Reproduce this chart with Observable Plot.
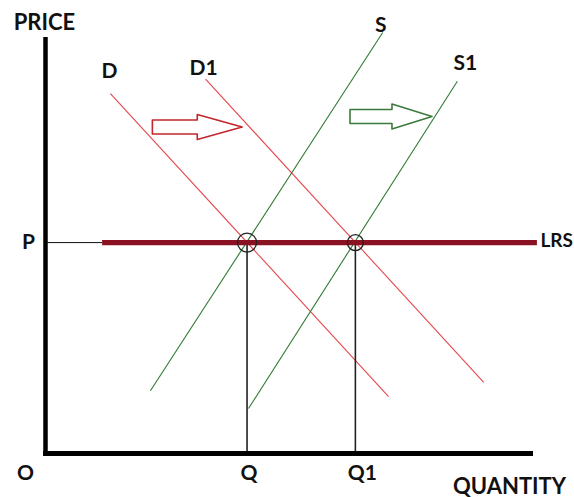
<!DOCTYPE html>
<html>
<head>
<meta charset="utf-8">
<script src="https://cdn.jsdelivr.net/npm/d3@7"></script>
<script src="https://cdn.jsdelivr.net/npm/@observablehq/plot@0.6"></script>
<style>
  html, body { margin: 0; padding: 0; background: #fff; }
  #chart svg { display: block; }
</style>
</head>
<body>
<div id="chart"></div>
<script>
// Long-run supply: demand and supply both shift right, price stays at P.
const priceLevel = 50.7;
const quantities = [41.3, 63.5];
const quantityLabels = ["Q", "Q1"];

const curveNames = ["D", "D1", "S", "S1"];
const curveX1 = [13.3, 32.8, 21.5, 41.6];
const curveY1 = [86.5, 90.0, 15.1, 10.8];
const curveX2 = [70.3, 89.8, 69.1, 84.4];
const curveY2 = [13.7, 17.1, 101.2, 89.5];

const lrsStart = 11.7;
const lrsEnd = 100.8;

// shift arrows (tail, neck, tip along the quantity axis; height on the price axis)
const arrowNames = ["demand shift", "supply shift"];
const arrowTail = [21.9, 62.4];
const arrowNeck = [31.1, 71.0];
const arrowTip = [40.3, 79.2];
const arrowY = [78.5, 81.0];

const curves = curveNames.map((name, i) => {
  const topFirst = curveY1[i] > curveY2[i];
  return {
    name,
    kind: name.startsWith("D") ? "demand" : "supply",
    x1: curveX1[i], y1: curveY1[i], x2: curveX2[i], y2: curveY2[i],
    topX: topFirst ? curveX1[i] : curveX2[i],
    topY: topFirst ? curveY1[i] : curveY2[i]
  };
});

const bodyHalf = 1.68, headHalf = 3.0;
const arrowPoints = arrowNames.flatMap((name, i) => {
  const y = arrowY[i], t = arrowTail[i], n = arrowNeck[i], p = arrowTip[i];
  return [
    [t, y + bodyHalf], [n, y + bodyHalf], [n, y + headHalf], [p, y],
    [n, y - headHalf], [n, y - bodyHalf], [t, y - bodyHalf]
  ].map(([x, yy]) => ({name, x, y: yy}));
});

const intersections = quantities.map((q, i) => ({q, label: quantityLabels[i], r: i === 0 ? 9.5 : 8}));

const labelOffsets = {D: [-1, -22], D1: [-2, -11], S: [-2, -7], S1: [8, -18]};
const font = "Lato, 'DejaVu Sans', sans-serif";
const labelStyle = {fontFamily: font, fontWeight: "bold", fontSize: 21, fill: "#111"};

const colors = {demand: "#e5474b", supply: "#2f7a33"};
const arrowColors = {"demand shift": "#c3262c", "supply shift": "#3c7a3c"};

const chart = Plot.plot({
  width: 574,
  height: 497,
  marginLeft: 45,
  marginRight: 41,
  marginTop: 37,
  marginBottom: 44,
  x: {domain: [0, 100], axis: null},
  y: {domain: [0, 100], axis: null},
  r: {type: "identity"},
  style: {background: "#fff", overflow: "visible"},
  marks: [
    // guide from the price axis to the LRS line
    Plot.ruleY([priceLevel], {x1: 0, x2: lrsStart, stroke: "#111", strokeWidth: 1}),
    // demand and supply curves
    Plot.link(curves, {
      x1: "x1", y1: "y1", x2: "x2", y2: "y2",
      stroke: d => colors[d.kind], strokeWidth: 1.1
    }),
    // drop lines to Q and Q1
    Plot.ruleX(quantities, {y1: 0, y2: priceLevel, stroke: "#222", strokeWidth: 1.6}),
    // long-run supply
    Plot.ruleY([priceLevel], {x1: lrsStart, x2: lrsEnd, stroke: "#8a1222", strokeWidth: 5.3}),
    // equilibrium markers
    Plot.dot(intersections, {x: "q", y: priceLevel, r: "r", stroke: "#222", strokeWidth: 1.3, fill: "none"}),
    // shift arrows
    Plot.line(arrowPoints, {
      x: "x", y: "y", z: "name", curve: "linear-closed",
      stroke: d => arrowColors[d.name], strokeWidth: 1.6, fill: "none"
    }),
    // axes
    Plot.ruleX([0], {y1: -0.5, y2: 100, stroke: "#000", strokeWidth: 4.5}),
    Plot.ruleY([0], {x1: -0.4, x2: 100, stroke: "#000", strokeWidth: 5}),
    // curve labels
    ...curves.map(c => Plot.text([c], {
      x: "topX", y: "topY", text: "name",
      dx: labelOffsets[c.name][0], dy: labelOffsets[c.name][1],
      ...labelStyle
    })),
    // axis titles and tick letters
    Plot.text(["PRICE"], {x: 0, y: 100, dx: -1, dy: -15, ...labelStyle, fontSize: 22}),
    Plot.text(["QUANTITY"], {x: 100, y: 0, dx: -24, dy: 33, ...labelStyle, fontSize: 22}),
    Plot.text(["O"], {x: 0, y: 0, dx: -20, dy: 20, ...labelStyle}),
    Plot.text(["P"], {x: 0, y: priceLevel, dx: -17, dy: 0, ...labelStyle}),
    ...intersections.map((d, i) => Plot.text([d], {
      x: "q", y: 0, text: "label", dx: i === 0 ? 2 : 7, dy: 20, ...labelStyle
    })),
    Plot.text(["LRS"], {x: lrsEnd, y: priceLevel, dx: 3, dy: -2, textAnchor: "start", ...labelStyle, fontSize: 19})
  ]
});

document.getElementById("chart").append(chart);
</script>
</body>
</html>
